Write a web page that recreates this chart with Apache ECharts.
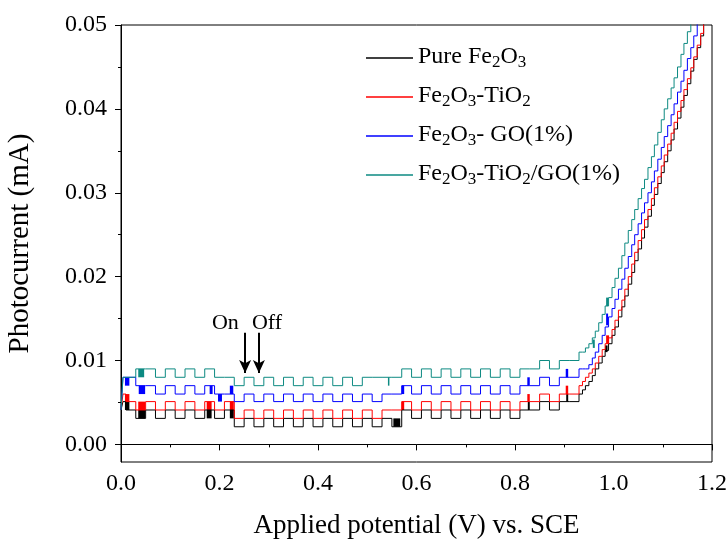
<!DOCTYPE html>
<html>
<head>
<meta charset="utf-8">
<script src="https://cdn.jsdelivr.net/npm/echarts@6/dist/echarts.min.js"></script>
<style>
  html, body { margin: 0; padding: 0; background: #fff; }
  #chart { width: 727px; height: 541px; }
</style>
</head>
<body>
<div id="chart"></div>
<script>
// Chopped-light linear sweep voltammetry, photocurrent (mA) vs. potential (V vs. SCE)

const seriesNames = ['Pure Fe2O3', 'Fe2O3-TiO2', 'Fe2O3- GO(1%)', 'Fe2O3-TiO2/GO(1%)'];
const seriesColors = ['#000000', '#ff0000', '#0000ff', '#0d8a82'];

// every trace starts here before the first reading settles
const startPotential = 0;
const startCurrent = 0.0041;
const settlePotential = 0.004;

// lamp switching potentials: on, off, on, off ... (V)
const chopEdges = [0.01, 0.03, 0.05, 0.07, 0.09, 0.11, 0.13, 0.15, 0.17, 0.19,
                   0.21, 0.23, 0.25, 0.27, 0.29, 0.31, 0.33, 0.35, 0.37, 0.39,
                   0.41, 0.43, 0.45, 0.47, 0.49, 0.51, 0.53, 0.55, 0.57, 0.59,
                   0.61, 0.63, 0.65, 0.67, 0.69, 0.71, 0.73, 0.75, 0.77, 0.79,
                   0.81, 0.83, 0.85, 0.87, 0.89, 0.91];

// current held in each chopped segment (first entry: before the first edge), mA
const pureChop = [0.0051,
  0.0041, 0.0031, 0.0041, 0.0031, 0.0041, 0.0031, 0.0041, 0.0031, 0.0041, 0.0031,
  0.0041, 0.0021, 0.0031, 0.0021, 0.0031, 0.0021, 0.0031, 0.0021, 0.0031, 0.0021,
  0.0031, 0.0021, 0.0031, 0.0021, 0.0031, 0.0021, 0.0031, 0.0021, 0.0041, 0.0031,
  0.0041, 0.0031, 0.0041, 0.0031, 0.0041, 0.0031, 0.0041, 0.0031, 0.0041, 0.0031,
  0.0041, 0.0041, 0.0051, 0.0041, 0.0051, 0.0051];
const tio2Chop = [0.0060,
  0.0051, 0.0041, 0.0051, 0.0041, 0.0051, 0.0041, 0.0051, 0.0041, 0.0051, 0.0041,
  0.0051, 0.0031, 0.0041, 0.0031, 0.0041, 0.0031, 0.0041, 0.0031, 0.0041, 0.0031,
  0.0041, 0.0031, 0.0041, 0.0031, 0.0041, 0.0031, 0.0041, 0.0041, 0.0051, 0.0041,
  0.0051, 0.0041, 0.0051, 0.0041, 0.0051, 0.0041, 0.0051, 0.0041, 0.0051, 0.0041,
  0.0051, 0.0051, 0.0060, 0.0051, 0.0060, 0.0060];
const goChop = [0.0080,
  0.0080, 0.0070, 0.0070, 0.0060, 0.0070, 0.0060, 0.0070, 0.0060, 0.0070, 0.0060,
  0.0060, 0.0051, 0.0060, 0.0051, 0.0060, 0.0051, 0.0060, 0.0051, 0.0060, 0.0051,
  0.0060, 0.0051, 0.0060, 0.0051, 0.0060, 0.0051, 0.0060, 0.0060, 0.0070, 0.0060,
  0.0070, 0.0060, 0.0070, 0.0060, 0.0070, 0.0060, 0.0070, 0.0060, 0.0070, 0.0060,
  0.0070, 0.0070, 0.0080, 0.0070, 0.0080, 0.0080];
const tio2GoChop = [0.0080,
  0.0080, 0.0090, 0.0090, 0.0080, 0.0090, 0.0080, 0.0090, 0.0080, 0.0090, 0.0080,
  0.0080, 0.0070, 0.0080, 0.0070, 0.0080, 0.0070, 0.0080, 0.0070, 0.0080, 0.0070,
  0.0080, 0.0070, 0.0080, 0.0070, 0.0080, 0.0080, 0.0080, 0.0080, 0.0090, 0.0080,
  0.0090, 0.0080, 0.0090, 0.0080, 0.0090, 0.0080, 0.0090, 0.0080, 0.0090, 0.0080,
  0.0090, 0.0090, 0.0100, 0.0090, 0.0100, 0.0100];

// onset branch: sampling potentials (V) and current at each one (mA)
const riseV = [0.930, 0.937, 0.943, 0.950, 0.957, 0.963, 0.970, 0.977, 0.983, 0.990,
               0.997, 1.003, 1.010, 1.017, 1.023, 1.030, 1.037, 1.043, 1.050, 1.057,
               1.063, 1.070, 1.077, 1.083, 1.090, 1.097, 1.103, 1.110, 1.117, 1.123,
               1.130, 1.137, 1.143, 1.150, 1.157, 1.163, 1.170, 1.177, 1.183, 1.190];
const pureRise = [0.0060, 0.0065, 0.0070, 0.0075, 0.0082, 0.0090, 0.0097, 0.0105, 0.0112, 0.0120,
                  0.0130, 0.0140, 0.0152, 0.0164, 0.0177, 0.0191, 0.0205, 0.0219, 0.0233, 0.0246,
                  0.0259, 0.0272, 0.0285, 0.0298, 0.0311, 0.0324, 0.0337, 0.0350, 0.0363, 0.0376,
                  0.0389, 0.0402, 0.0416, 0.0430, 0.0445, 0.0459, 0.0473, 0.0487, 0.0502, 0.0516];
const tio2Rise = [0.0070, 0.0075, 0.0080, 0.0085, 0.0090, 0.0097, 0.0105, 0.0113, 0.0120, 0.0127,
                  0.0137, 0.0148, 0.0160, 0.0172, 0.0185, 0.0200, 0.0215, 0.0229, 0.0243, 0.0256,
                  0.0268, 0.0280, 0.0293, 0.0306, 0.0319, 0.0332, 0.0345, 0.0358, 0.0371, 0.0384,
                  0.0397, 0.0410, 0.0423, 0.0436, 0.0449, 0.0462, 0.0476, 0.0490, 0.0504, 0.0518];
const goRise = [0.0090, 0.0090, 0.0090, 0.0095, 0.0103, 0.0110, 0.0120, 0.0130, 0.0140, 0.0152,
                0.0162, 0.0173, 0.0185, 0.0197, 0.0210, 0.0224, 0.0238, 0.0250, 0.0263, 0.0276,
                0.0288, 0.0300, 0.0313, 0.0326, 0.0340, 0.0354, 0.0367, 0.0380, 0.0393, 0.0406,
                0.0420, 0.0433, 0.0446, 0.0460, 0.0473, 0.0487, 0.0502, 0.0515, 0.0528, 0.0541];
const tio2GoRise = [0.0110, 0.0110, 0.0115, 0.0120, 0.0127, 0.0135, 0.0145, 0.0155, 0.0165, 0.0175,
                    0.0187, 0.0198, 0.0210, 0.0225, 0.0240, 0.0255, 0.0268, 0.0280, 0.0293, 0.0305,
                    0.0316, 0.0330, 0.0343, 0.0357, 0.0372, 0.0387, 0.0400, 0.0412, 0.0425, 0.0437,
                    0.0450, 0.0465, 0.0478, 0.0492, 0.0505, 0.0518, 0.0530, 0.0543, 0.0555, 0.0568];

// switching transients that blur into solid bars: [V from, V to, mA low, mA high]
const pureSpikes = [[0.008, 0.017, 0.0041, 0.0051], [0.035, 0.049, 0.0031, 0.0041],
                    [0.174, 0.184, 0.0031, 0.0041], [0.221, 0.229, 0.0031, 0.0041],
                    [0.553, 0.567, 0.0021, 0.0031], [0.826, 0.830, 0.0041, 0.0051],
                    [0.904, 0.908, 0.0051, 0.0060], [0.983, 0.988, 0.0110, 0.0118]];
const tio2Spikes = [[0.008, 0.017, 0.0051, 0.0060], [0.035, 0.049, 0.0041, 0.0051],
                    [0.174, 0.184, 0.0041, 0.0051], [0.221, 0.229, 0.0041, 0.0051],
                    [0.570, 0.575, 0.0041, 0.0051], [0.825, 0.830, 0.0051, 0.0060],
                    [0.903, 0.908, 0.0060, 0.0070], [0.985, 0.991, 0.0120, 0.0130]];
const goSpikes = [[0.008, 0.017, 0.0070, 0.0080], [0.036, 0.049, 0.0060, 0.0070],
                  [0.180, 0.186, 0.0060, 0.0070], [0.197, 0.205, 0.0051, 0.0060],
                  [0.221, 0.228, 0.0060, 0.0070], [0.570, 0.575, 0.0060, 0.0070],
                  [0.825, 0.830, 0.0070, 0.0080], [0.903, 0.908, 0.0080, 0.0090],
                  [0.985, 0.989, 0.0142, 0.0156]];
const tio2GoSpikes = [[0.035, 0.047, 0.0080, 0.0090], [0.542, 0.545, 0.0070, 0.0080],
                      [0.958, 0.962, 0.0115, 0.0125], [0.985, 0.989, 0.0165, 0.0175]];

// "On / Off" annotation: arrow potentials and the current span they cover
const arrowV = [0.252, 0.280];
const arrowFrom = 0.0133;
const arrowTo = 0.0085;
const chopLabels = ['On', 'Off'];
const chopLabelV = [0.212, 0.2965];
const chopLabelI = 0.0144;

// axis ticks
const yMajor = [0, 0.01, 0.02, 0.03, 0.04, 0.05];
const yMinor = [0.005, 0.015, 0.025, 0.035, 0.045];

const legendLabels = [
  '{n|Pure Fe}{s|2}{n|O}{s|3}',
  '{n|Fe}{s|2}{n|O}{s|3}{n|-TiO}{s|2}',
  '{n|Fe}{s|2}{n|O}{s|3}{n|- GO(1%)}',
  '{n|Fe}{s|2}{n|O}{s|3}{n|-TiO}{s|2}{n|/GO(1%)}'
];

const serif = '"Times New Roman", "Liberation Serif", "DejaVu Serif", serif';

function buildTrace(levels, rise) {
  const pts = [[startPotential, startCurrent], [settlePotential, levels[0]]];
  chopEdges.forEach((v, i) => pts.push([v, levels[i + 1]]));
  riseV.forEach((v, i) => pts.push([v, rise[i]]));
  return pts;
}

function spikeAreas(spikes) {
  return spikes.map(s => [{ coord: [s[0], s[2]] }, { coord: [s[1], s[3]] }]);
}

const traces = [
  buildTrace(pureChop, pureRise),
  buildTrace(tio2Chop, tio2Rise),
  buildTrace(goChop, goRise),
  buildTrace(tio2GoChop, tio2GoRise)
];
const spikes = [pureSpikes, tio2Spikes, goSpikes, tio2GoSpikes];

const series = seriesNames.map((name, i) => ({
  name,
  type: 'line',
  step: 'end',
  data: traces[i],
  showSymbol: false,
  symbol: 'none',
  color: seriesColors[i],
  lineStyle: { width: 1, color: seriesColors[i] },
  z: 2 + i,
  markArea: {
    silent: true,
    itemStyle: { color: seriesColors[i], opacity: 1 },
    label: { show: false },
    data: spikeAreas(spikes[i])
  }
}));

// arrows and their captions ride on the first trace
series[0].markLine = {
  silent: true,
  symbol: ['none', 'arrow'],
  symbolSize: [9, 13],
  label: { show: false },
  lineStyle: { color: '#000', width: 2, type: 'solid' },
  data: arrowV.map(v => [{ coord: [v, arrowFrom] }, { coord: [v, arrowTo] }])
};
series[0].markPoint = {
  silent: true,
  symbol: 'circle',
  symbolSize: 0,
  label: {
    show: true,
    position: 'inside',
    formatter: p => p.name,
    color: '#000',
    fontFamily: serif,
    fontSize: 22
  },
  data: chopLabels.map((t, i) => ({ name: t, coord: [chopLabelV[i], chopLabelI] }))
};

const chart = echarts.init(document.getElementById('chart'), null, { renderer: 'canvas' });
chart.setOption({
  animation: false,
  backgroundColor: '#fff',
  grid: {
    left: 121, right: 15, top: 25, bottom: 79,
    outerBoundsMode: 'none',
    containLabel: false,
    show: true, borderColor: '#000', borderWidth: 1, backgroundColor: 'transparent'
  },
  legend: {
    orient: 'vertical',
    left: 361,
    top: 36,
    icon: 'rect',
    itemWidth: 47,
    itemHeight: 1.5,
    itemGap: 9,
    data: seriesNames,
    formatter: name => legendLabels[seriesNames.indexOf(name)],
    textStyle: {
      color: '#000',
      fontFamily: serif,
      rich: {
        n: { fontSize: 24, fontFamily: serif, color: '#000', lineHeight: 26, verticalAlign: 'top' },
        s: { fontSize: 17, fontFamily: serif, color: '#000', lineHeight: 17, verticalAlign: 'bottom', padding: [13, 0, 0, 0] }
      }
    }
  },
  xAxis: {
    type: 'value',
    min: 0,
    max: 1.2,
    interval: 0.2,
    name: 'Applied potential (V) vs. SCE',
    nameLocation: 'middle',
    nameGap: 50,
    nameTextStyle: { fontFamily: serif, fontSize: 27, color: '#000' },
    axisLine: { show: true, lineStyle: { color: '#000', width: 1 } },
    axisTick: { show: true, inside: false, length: 6, lineStyle: { color: '#000' } },
    minorTick: { show: true, splitNumber: 2, length: 3, lineStyle: { color: '#000' } },
    splitLine: { show: false },
    minorSplitLine: { show: false },
    axisLabel: {
      color: '#000', fontFamily: serif, fontSize: 24, margin: 10,
      formatter: v => v.toFixed(1)
    }
  },
  yAxis: [
    {
      type: 'value',
      min: -0.0021,
      max: 0.05,
      position: 'left',
      name: 'Photocurrent (mA)',
      nameLocation: 'middle',
      nameGap: 86,
      nameRotate: 90,
      nameTextStyle: { fontFamily: serif, fontSize: 29, color: '#000' },
      axisLine: { show: true, lineStyle: { color: '#000', width: 1 } },
      axisTick: { show: true, inside: false, length: 6, customValues: yMajor, lineStyle: { color: '#000' } },
      splitLine: { show: false },
      axisLabel: {
        color: '#000', fontFamily: serif, fontSize: 24, margin: 14,
        customValues: yMajor,
        formatter: v => v.toFixed(2)
      }
    },
    {
      type: 'value',
      min: -0.0021,
      max: 0.05,
      position: 'left',
      axisLine: { show: false },
      axisTick: { show: true, inside: false, length: 3, customValues: yMinor, lineStyle: { color: '#000' } },
      axisLabel: { show: false },
      splitLine: { show: false }
    }
  ],
  series
});
</script>
</body>
</html>
